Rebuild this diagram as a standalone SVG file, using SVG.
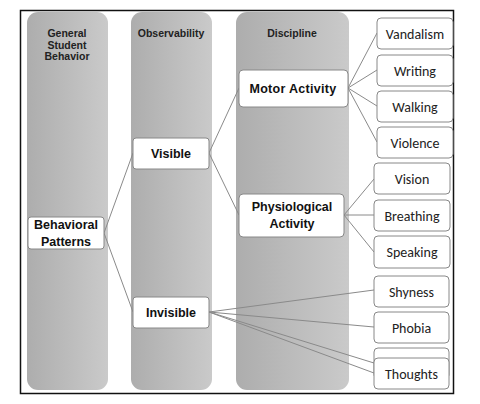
<svg xmlns="http://www.w3.org/2000/svg" width="480" height="404" viewBox="0 0 480 404">
<defs>
<linearGradient id="colg" x1="0" y1="0" x2="1" y2="0">
<stop offset="0" stop-color="#adadad"/>
<stop offset="1" stop-color="#cacaca"/>
</linearGradient>
<style>
.col{fill:url(#colg);}
.hdr{font-family:"Liberation Sans",Arial,sans-serif;font-weight:bold;font-size:10.5px;fill:#222;text-anchor:middle;}
.nb{fill:#fff;stroke:#888;stroke-width:1;}
.nt{font-family:"Liberation Sans",Arial,sans-serif;font-weight:bold;font-size:12.5px;fill:#111;text-anchor:middle;}
.lt{font-family:"Carlito","Liberation Sans",sans-serif;font-size:14px;fill:#222;text-anchor:middle;}
.cn{stroke:#8a8a8a;stroke-width:1;fill:none;}
</style>
</defs>
<rect x="0" y="0" width="480" height="404" fill="#fff"/>
<rect x="20.5" y="10.5" width="433" height="383" fill="#fff" stroke="#111" stroke-width="1.5"/>
<g id="col1"><rect class="col" x="27" y="12" width="81" height="378" rx="11"/><text class="hdr" x="67" y="37">General</text><text class="hdr" x="67" y="48.5">Student</text><text class="hdr" x="67" y="60">Behavior</text></g>
<g id="col2"><rect class="col" x="131" y="12" width="81" height="378" rx="11"/><text class="hdr" x="171" y="37">Observability</text></g>
<g id="col3"><rect class="col" x="236" y="12" width="113" height="378" rx="11"/><text class="hdr" x="292" y="37">Discipline</text></g>
<g id="connectors">
<line class="cn" x1="104" y1="233" x2="133" y2="153"/>
<line class="cn" x1="104" y1="233" x2="133" y2="312"/>
<line class="cn" x1="209" y1="153" x2="239" y2="88"/>
<line class="cn" x1="209" y1="153" x2="239" y2="215"/>
<line class="cn" x1="348" y1="88" x2="377" y2="33"/>
<line class="cn" x1="348" y1="88" x2="377" y2="70"/>
<line class="cn" x1="348" y1="88" x2="377" y2="106"/>
<line class="cn" x1="348" y1="88" x2="377" y2="142"/>
<line class="cn" x1="344" y1="215" x2="374" y2="179"/>
<line class="cn" x1="344" y1="215" x2="374" y2="215"/>
<line class="cn" x1="344" y1="215" x2="374" y2="252"/>
<line class="cn" x1="209" y1="312" x2="374" y2="290"/>
<line class="cn" x1="209" y1="312" x2="374" y2="327"/>
<line class="cn" x1="209" y1="312" x2="374" y2="363"/>
<line class="cn" x1="209" y1="312" x2="374" y2="373"/>
</g>
<g id="behavioral"><rect class="nb" x="28" y="217" width="76" height="32" rx="3"/><text class="nt" x="66" y="228.5">Behavioral</text><text class="nt" x="66" y="245.5">Patterns</text></g>
<g id="visible"><rect class="nb" x="133" y="138" width="76" height="31" rx="3"/><text class="nt" x="171" y="158">Visible</text></g>
<g id="invisible"><rect class="nb" x="133" y="297" width="76" height="31" rx="3"/><text class="nt" x="171" y="317">Invisible</text></g>
<g id="motor"><rect class="nb" x="239" y="70" width="109" height="37" rx="4"/><text class="nt" x="293" y="92.5" letter-spacing="0.3">Motor Activity</text></g>
<g id="physio"><rect class="nb" x="239" y="194" width="105" height="43" rx="4"/><text class="nt" x="292" y="210.5">Physiological</text><text class="nt" x="292" y="227.5">Activity</text></g>
<g id="vandalism"><rect class="nb" x="377" y="18" width="76" height="31" rx="4"/><text class="lt" x="415" y="38.5">Vandalism</text></g>
<g id="writing"><rect class="nb" x="377" y="55" width="76" height="31" rx="4"/><text class="lt" x="415" y="75.5">Writing</text></g>
<g id="walking"><rect class="nb" x="377" y="91" width="76" height="31" rx="4"/><text class="lt" x="415" y="111.5">Walking</text></g>
<g id="violence"><rect class="nb" x="377" y="127" width="76" height="31" rx="4"/><text class="lt" x="415" y="147.5">Violence</text></g>
<g id="vision"><rect class="nb" x="374" y="163" width="76" height="31" rx="4"/><text class="lt" x="412" y="183.5">Vision</text></g>
<g id="breathing"><rect class="nb" x="374" y="200" width="76" height="31" rx="4"/><text class="lt" x="412" y="220.5">Breathing</text></g>
<g id="speaking"><rect class="nb" x="374" y="236" width="76" height="32" rx="4"/><text class="lt" x="412" y="256.5">Speaking</text></g>
<g id="shyness"><rect class="nb" x="374" y="276" width="75" height="31" rx="4"/><text class="lt" x="411.5" y="296.5">Shyness</text></g>
<g id="phobia"><rect class="nb" x="374" y="312" width="75" height="31" rx="4"/><text class="lt" x="411.5" y="332.5">Phobia</text></g>
<g id="hidden"><rect class="nb" x="374" y="348" width="75" height="31" rx="4"/></g>
<g id="thoughts"><rect class="nb" x="374" y="358" width="75" height="31" rx="4"/><text class="lt" x="411.5" y="378.5">Thoughts</text></g>
</svg>
